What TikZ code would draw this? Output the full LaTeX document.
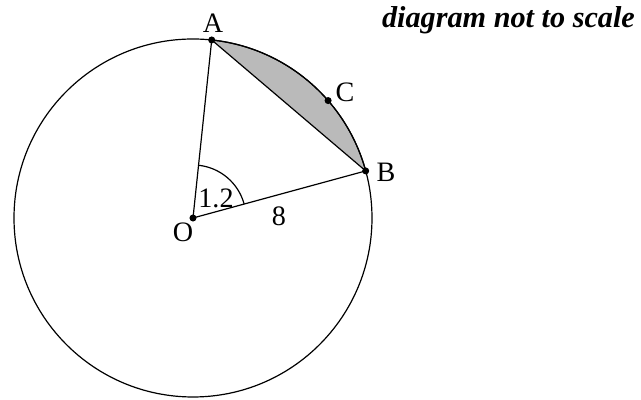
\documentclass[tikz,border=0pt]{standalone}
\usepackage{fontspec}
\setmainfont{Liberation Serif}
\usepackage{tikz}
\usetikzlibrary{calc}

\begin{document}
\begin{tikzpicture}[x=0.025cm, y=0.025cm, line width=0.85pt,
    dot/.style={circle, fill=black, inner sep=0pt, minimum size=5pt},
    lbl/.style={font=\fontsize{20}{22}\selectfont, inner sep=0pt}]
        \useasboundingbox (0,0) rectangle (641,400);
        % centre and points on the circle
        \coordinate (O) at (193,182);
        \coordinate (A) at ($(O)+(84:179)$);
        \coordinate (B) at ($(O)+(15.25:179)$);
        \coordinate (C) at ($(O)+(41:179)$);
        \fill[black!27] (A) arc (84:15.25:179) -- cycle;
        \draw (O) circle (179);
        \draw (A) arc (84:15.25:179) -- cycle;
        \draw (O) -- (A);
        \draw (O) -- (B);
        \draw (O) ++(15.25:53) arc (15.25:84:53);
        \node[dot] at (O) {};
        \node[dot] at (A) {};
        \node[dot] at (B) {};
        \node[dot] at (C) {};
        \node[lbl] (oname) at (183,168) {O};
        \node[lbl] (aname) at (213,377) {A};
        \node[lbl] (bname) at (386,228) {B};
        \node[lbl] (cname) at (345,308) {C};
        \node[lbl] (angle) at (216,202) {1.2};
        \node[lbl] (radius) at (279,184) {8};
        \node[font=\fontsize{21.5}{23}\selectfont\bfseries\itshape, inner sep=0pt, anchor=base] (note) at (508.5,372) {diagram not to scale};
    \end{tikzpicture}
\end{document}
